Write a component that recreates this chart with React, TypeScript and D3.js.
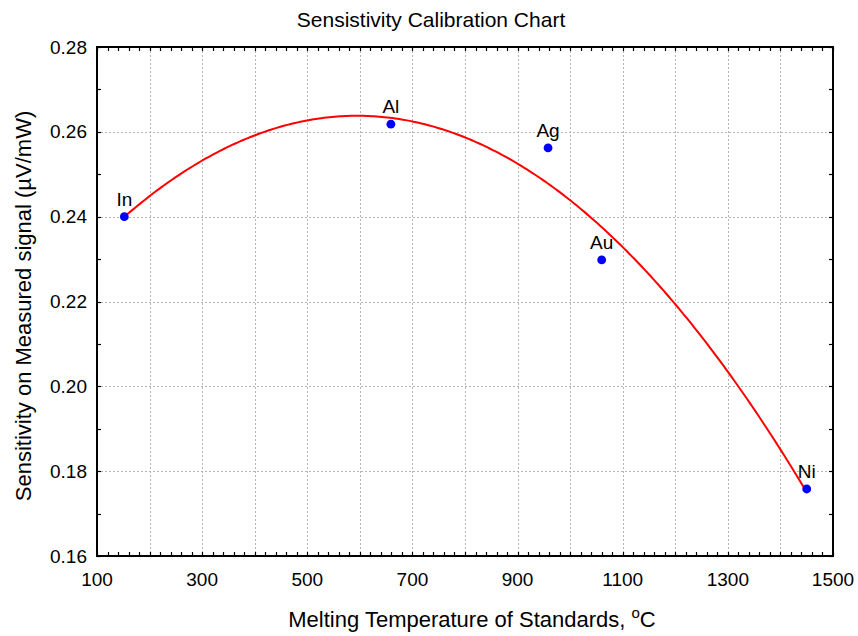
import { useEffect, useRef } from 'react';
import * as d3 from 'd3';

// standards: name, melting temperature (°C), sensitivity (µV/mW)
const names = ['In', 'Al', 'Ag', 'Au', 'Ni'];
const meltTemps = [152, 659, 958, 1060, 1450];
const sensitivity = [0.24, 0.2618, 0.2562, 0.2298, 0.1758];
const xTickLabels = [100, 300, 500, 700, 900, 1100, 1300, 1500];
const yTickLabels = [0.16, 0.18, 0.2, 0.22, 0.24, 0.26, 0.28];

// least squares quadratic fit through the points
function quadFit(xs: number[], ys: number[]) {
  const n = xs.length;
  const s = [0, 0, 0, 0, 0];
  const t = [0, 0, 0];
  for (let i = 0; i < n; i++) {
    for (let k = 0; k < 5; k++) s[k] += Math.pow(xs[i], k);
    for (let k = 0; k < 3; k++) t[k] += ys[i] * Math.pow(xs[i], k);
  }
  const m = [
    [s[0], s[1], s[2], t[0]],
    [s[1], s[2], s[3], t[1]],
    [s[2], s[3], s[4], t[2]],
  ];
  for (let c = 0; c < 3; c++) {
    for (let r = c + 1; r < 3; r++) {
      const f = m[r][c] / m[c][c];
      for (let k = c; k < 4; k++) m[r][k] -= f * m[c][k];
    }
  }
  const b = [0, 0, 0];
  for (let r = 2; r >= 0; r--) {
    let v = m[r][3];
    for (let k = r + 1; k < 3; k++) v -= m[r][k] * b[k];
    b[r] = v / m[r][r];
  }
  return (x: number) => b[0] + b[1] * x + b[2] * x * x;
}

const App = () => {
  const svgRef = useRef<SVGSVGElement>(null);

  useEffect(() => {
    const svg = d3.select(svgRef.current);
    svg.selectAll('*').remove();

    const left = 97, right = 833, top = 47, bottom = 556;
    const font = 'Liberation Sans, Arial, sans-serif';

    const x = d3.scaleLinear().domain([100, 1500]).range([left, right]);
    const y = d3.scaleLinear().domain([0.16, 0.28]).range([bottom, top]);

    // grid
    const grid = svg.append('g')
      .attr('stroke', '#b4b4b4')
      .attr('stroke-width', 1)
      .attr('stroke-dasharray', '2,2');
    d3.range(200, 1500, 100).forEach(v => {
      grid.append('line')
        .attr('x1', Math.round(x(v)) + 0.5).attr('x2', Math.round(x(v)) + 0.5)
        .attr('y1', top).attr('y2', bottom);
    });
    d3.range(0.18, 0.2799, 0.02).forEach(v => {
      grid.append('line')
        .attr('y1', Math.round(y(v)) + 0.5).attr('y2', Math.round(y(v)) + 0.5)
        .attr('x1', left).attr('x2', right);
    });

    // inward minor/major ticks on all four sides
    const ticks = svg.append('g').attr('stroke', '#000').attr('stroke-width', 1.2);
    d3.range(100, 1500.1, 20).forEach(v => {
      const px = Math.round(x(v)) + 0.5;
      ticks.append('line').attr('x1', px).attr('x2', px).attr('y1', bottom).attr('y2', bottom - 4);
      ticks.append('line').attr('x1', px).attr('x2', px).attr('y1', top).attr('y2', top + 4);
    });
    d3.range(0.16, 0.2801, 0.01).forEach(v => {
      const py = Math.round(y(v)) + 0.5;
      ticks.append('line').attr('y1', py).attr('y2', py).attr('x1', left).attr('x2', left + 4);
      ticks.append('line').attr('y1', py).attr('y2', py).attr('x1', right).attr('x2', right - 4);
    });

    // frame
    svg.append('rect')
      .attr('x', left).attr('y', top)
      .attr('width', right - left).attr('height', bottom - top)
      .attr('fill', 'none').attr('stroke', '#000').attr('stroke-width', 2);

    // tick labels
    svg.append('g').selectAll('text').data(xTickLabels).join('text')
      .attr('x', d => x(d)).attr('y', 586)
      .attr('text-anchor', 'middle')
      .style('font-family', font).style('font-size', '19px')
      .text(d => d);
    svg.append('g').selectAll('text').data(yTickLabels).join('text')
      .attr('x', 87).attr('y', d => y(d) + 6.5)
      .attr('text-anchor', 'end')
      .style('font-family', font).style('font-size', '19px')
      .text(d => d3.format('.2f')(d));

    // fitted curve
    const fit = quadFit(meltTemps, sensitivity);
    const xs = d3.range(meltTemps[0], meltTemps[4] + 0.1, 5);
    svg.append('path')
      .datum(xs)
      .attr('d', d3.line<number>().x(d => x(d)).y(d => y(fit(d))))
      .attr('fill', 'none').attr('stroke', '#ff0000').attr('stroke-width', 2);

    // points
    svg.append('g').selectAll('circle').data(names).join('circle')
      .attr('cx', (_, i) => x(meltTemps[i]))
      .attr('cy', (_, i) => y(sensitivity[i]))
      .attr('r', 4.4)
      .attr('fill', '#0000ff');

    svg.append('g').selectAll('text').data(names).join('text')
      .attr('x', (_, i) => x(meltTemps[i]))
      .attr('y', (_, i) => y(sensitivity[i]) - 11)
      .attr('text-anchor', 'middle')
      .style('font-family', font).style('font-size', '19px')
      .text(d => d);

    // titles
    svg.append('text')
      .attr('x', 431).attr('y', 27)
      .attr('text-anchor', 'middle')
      .style('font-family', font).style('font-size', '21px')
      .text('Sensistivity Calibration Chart');

    const xt = svg.append('text')
      .attr('x', 472).attr('y', 627)
      .attr('text-anchor', 'middle')
      .style('font-family', font).style('font-size', '22px');
    xt.append('tspan').text('Melting Temperature of Standards, ');
    xt.append('tspan').attr('dy', -9).style('font-size', '15px').text('o');
    xt.append('tspan').attr('dy', 9).text('C');

    svg.append('text')
      .attr('transform', 'translate(31,306) rotate(-90)')
      .attr('text-anchor', 'middle')
      .style('font-family', font).style('font-size', '22px')
      .text('Sensitivity on Measured signal (\u00b5V/mW)');
  }, []);

  return (
    <svg
      ref={svgRef}
      width={858}
      height={636}
      style={{ position: 'absolute', left: 0, top: 0, background: '#fff' }}
    />
  );
};

export default App;
